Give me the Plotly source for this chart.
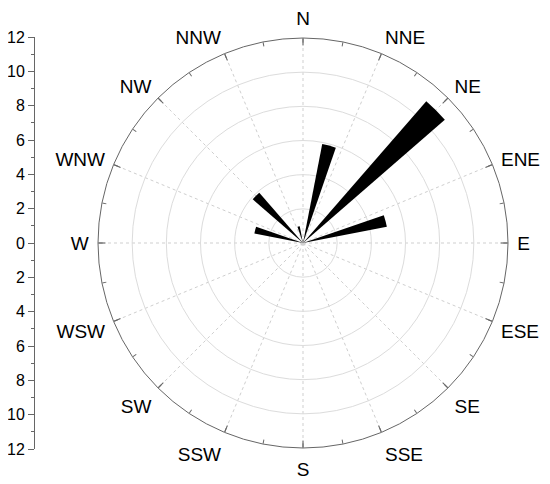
import plotly.graph_objects as go

# Wind rose data: direction (degrees from north) and value
directions = [15, 45, 75, 285, 315, 345]
values = [5.9, 11.0, 5.0, 2.9, 3.9, 1.0]
bar_width = 8

compass_labels = ["N", "NNE", "NE", "ENE", "E", "ESE", "SE", "SSE",
                  "S", "SSW", "SW", "WSW", "W", "WNW", "NW", "NNW"]
compass_angles = [i * 22.5 for i in range(16)]
minor_angles = [i * 11.25 for i in range(32)]

side_ticks = list(range(-12, 13, 2))
side_labels = [str(abs(v)) for v in side_ticks]

# the page body has an 8px margin, so size the figure to fit the window
OFF = 8
W, H = 550 - OFF, 484 - OFF
FONT = "Liberation Sans, Arial, sans-serif"


def dx(px):
    return (px - OFF) / W


def dy(px):
    return 1 - (px - OFF) / H


POLAR_DOMAIN = dict(x=[dx(98), dx(508)], y=[dy(448), dy(38)])

fig = go.Figure()

fig.add_trace(
    go.Barpolar(
        r=values,
        theta=directions,
        width=[bar_width] * len(values),
        base=0,
        marker=dict(color="black", line=dict(width=0)),
        showlegend=False,
        hoverinfo="skip",
    )
)

# empty traces so the overlay polar subplots (tick rings) get drawn
for sp in ["polar2", "polar3"]:
    fig.add_trace(go.Barpolar(r=[], theta=[], subplot=sp,
                              showlegend=False, hoverinfo="skip"))

# invisible trace so the side scale axis gets drawn
fig.add_trace(
    go.Scatter(
        x=[0, 0], y=[-12, 12], mode="markers",
        marker=dict(opacity=0), showlegend=False, hoverinfo="skip",
    )
)

hidden_radial = dict(range=[0, 12], visible=False)

fig.update_layout(
    width=W,
    height=H,
    margin=dict(l=0, r=0, t=0, b=0, autoexpand=False),
    paper_bgcolor="white",
    plot_bgcolor="white",
    font=dict(family=FONT, size=19, color="black"),
    polar=dict(
        domain=POLAR_DOMAIN,
        bgcolor="white",
        bargap=0,
        angularaxis=dict(
            direction="clockwise",
            rotation=90,
            tickmode="array",
            tickvals=compass_angles,
            ticktext=compass_labels,
            ticks="outside",
            ticklen=5,
            tickcolor="rgba(0,0,0,0)",
            showline=False,
            showgrid=True,
            gridcolor="#cfcfcf",
            griddash="dot",
            tickfont=dict(size=19, color="black"),
        ),
        radialaxis=dict(
            range=[0, 12],
            tickmode="array",
            tickvals=[2, 4, 6, 8, 10],
            showticklabels=False,
            ticks="",
            showline=False,
            gridcolor="#dcdcdc",
            gridwidth=1,
        ),
    ),
    # major inside ticks + outer circle
    polar2=dict(
        domain=POLAR_DOMAIN,
        bgcolor="rgba(0,0,0,0)",
        angularaxis=dict(
            direction="clockwise",
            rotation=90,
            tickmode="array",
            tickvals=compass_angles,
            showticklabels=False,
            ticks="inside",
            ticklen=7,
            tickcolor="#666",
            showline=True,
            linecolor="#666",
            linewidth=1,
            showgrid=False,
        ),
        radialaxis=hidden_radial,
    ),
    # minor inside ticks
    polar3=dict(
        domain=POLAR_DOMAIN,
        bgcolor="rgba(0,0,0,0)",
        angularaxis=dict(
            direction="clockwise",
            rotation=90,
            tickmode="array",
            tickvals=minor_angles,
            showticklabels=False,
            ticks="inside",
            ticklen=4,
            tickcolor="#666",
            showline=False,
            showgrid=False,
        ),
        radialaxis=hidden_radial,
    ),
    xaxis=dict(
        domain=[dx(35), dx(60)],
        visible=False,
        range=[0, 1],
        fixedrange=True,
        automargin=False,
    ),
    yaxis=dict(
        domain=[dy(449), dy(37)],
        range=[-12, 12],
        tickmode="array",
        tickvals=side_ticks,
        ticktext=side_labels,
        ticks="outside",
        ticklen=6,
        tickcolor="#666",
        showline=True,
        linecolor="#666",
        linewidth=1,
        showgrid=False,
        zeroline=False,
        automargin=False,
        tickfont=dict(size=16, color="black"),
        minor=dict(ticks="outside", ticklen=3, dtick=1, tickcolor="#666", showgrid=False),
        fixedrange=True,
    ),
)

fig.write_html("out.html")
